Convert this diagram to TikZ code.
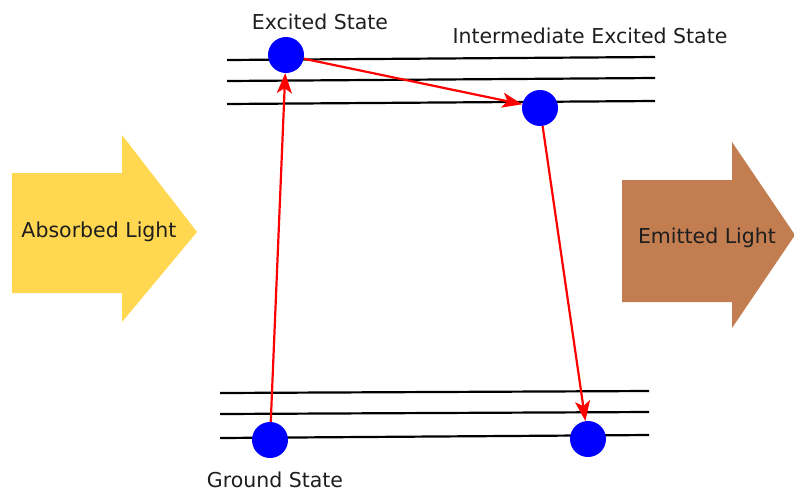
\documentclass[tikz,border=0pt]{standalone}
\usepackage{fontspec}
\setmainfont{DejaVu Sans}
\usetikzlibrary{arrows.meta}
\definecolor{absorb}{RGB}{255,215,80}
\definecolor{emit}{RGB}{194,125,80}
\definecolor{txt}{RGB}{30,30,30}
\begin{document}
\begin{tikzpicture}[x=1pt,y=-1pt,
  level/.style={black,line width=2.2pt},
  dot/.style={circle,fill=blue,draw=none,minimum size=36pt,inner sep=0pt},
  trans/.style={red,line width=2.2pt,-{Stealth[length=20pt,width=15pt,inset=5pt]}},
  lbl/.style={font=\fontsize{20.5}{24}\selectfont,text=txt,inner sep=0pt}]
\useasboundingbox (0,0) rectangle (794,491);
% light arrows
\fill[absorb] (12,173) -- (122,173) -- (122,135) -- (197,232) -- (122,322) -- (122,293) -- (12,293) -- cycle;
\fill[emit] (622,180) -- (732,180) -- (732,142) -- (795,235) -- (732,328) -- (732,302) -- (622,302) -- cycle;
\node[lbl] (abs) at (99,232) {Absorbed Light};
\node[lbl] (emt) at (707,238) {Emitted Light};
% energy levels
\draw[level] (227,60) -- (655,57);
\draw[level] (227,81) -- (655,78);
\draw[level] (227,104) -- (655,101);
\draw[level] (220,393) -- (649,391);
\draw[level] (220,414) -- (649,412);
\draw[level] (220,438) -- (649,435);
% states
\node[dot] (ex) at (286,55) {};
\node[dot] (im) at (540,108) {};
\node[dot] (g1) at (270,440) {};
\node[dot] (g2) at (588,439) {};
% transitions
\draw[trans] (g1) -- (ex);
\draw[trans] (ex) -- (im);
\draw[trans] (im) -- (g2);
% labels
\node[lbl] (lex) at (320,22) {Excited State};
\node[lbl] (lim) at (590,36) {Intermediate Excited State};
\node[lbl] (lg) at (275,480) {Ground State};
\end{tikzpicture}
\end{document}
